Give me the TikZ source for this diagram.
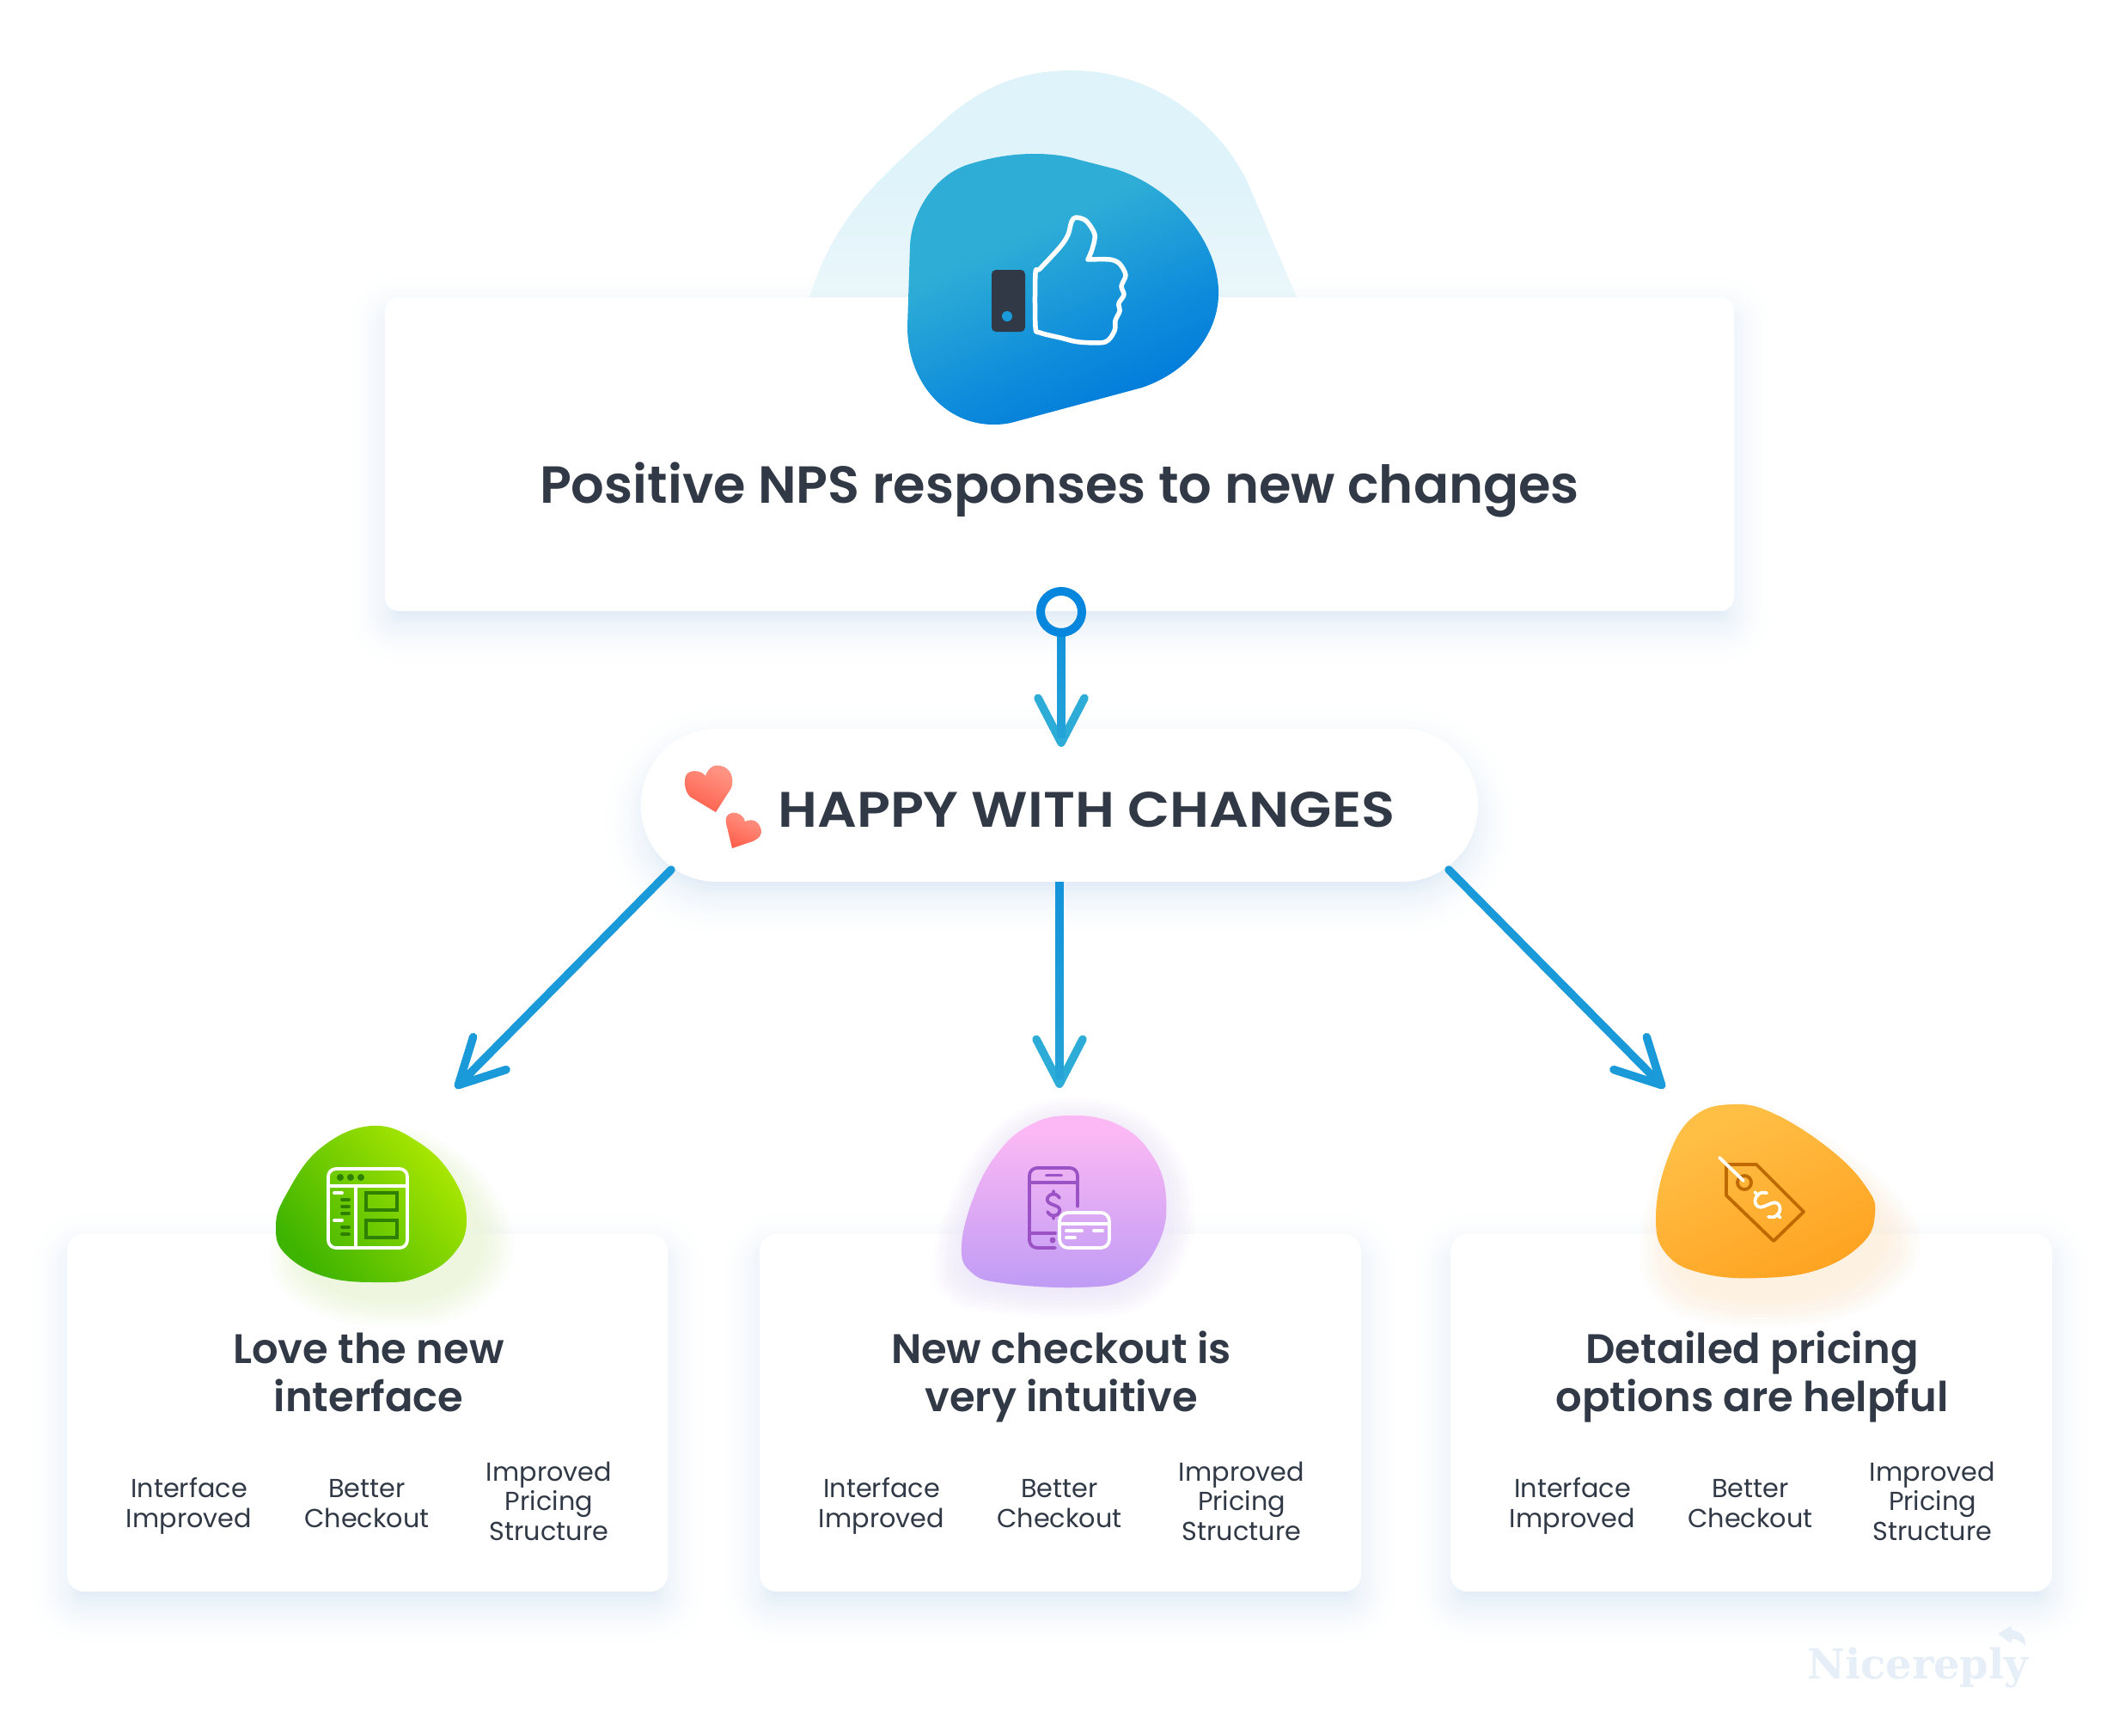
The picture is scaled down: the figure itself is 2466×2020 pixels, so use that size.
\documentclass[tikz,border=0pt]{standalone}
\usepackage{fontspec}
\setmainfont{Poppins}[BoldFont={Poppins SemiBold}]
\newfontfamily\wmfont{DejaVu Serif}
\usetikzlibrary{arrows.meta,calc}
\definecolor{ink}{HTML}{303945}
\definecolor{shadowc}{HTML}{E1ECF6}
\definecolor{arrowc}{HTML}{1A9AD9}
\definecolor{wm}{HTML}{E6EFF7}
\definecolor{tagc}{HTML}{BE6A00}
\definecolor{phonec}{HTML}{9B52C4}
\definecolor{gdark}{HTML}{2F7F00}
\definecolor{blueA}{HTML}{2EAED6}\definecolor{blueB}{HTML}{0F8CDB}\definecolor{blueC}{HTML}{007BDB}
\definecolor{backA}{HTML}{DFF3FA}\definecolor{backB}{HTML}{EAF7FB}\definecolor{backC}{HTML}{DFF0F8}
\definecolor{grA}{HTML}{ACE800}\definecolor{grB}{HTML}{3EB400}
\definecolor{puA}{HTML}{FBB8F4}\definecolor{puB}{HTML}{B697F5}
\definecolor{orA}{HTML}{FFBE44}\definecolor{orB}{HTML}{FFA01E}
\definecolor{heA}{HTML}{FF9282}\definecolor{heB}{HTML}{FF5A45}
\definecolor{shA}{HTML}{0B8ADC}\definecolor{shB}{HTML}{2CACD6}
\definecolor{ringc}{HTML}{0686DC}
\definecolor{glowg}{HTML}{E1F5BE}\definecolor{glowp}{HTML}{E1D2FA}\definecolor{glowo}{HTML}{FDE4C3}
\pgfdeclareverticalshading{sblue}{100bp}{color(0bp)=(blueC);color(26bp)=(blueC);color(40bp)=(blueB);color(62bp)=(blueA);color(100bp)=(blueA)}
\pgfdeclareverticalshading{sback}{100bp}{color(0bp)=(backC);color(20bp)=(backC);color(27bp)=(backB);color(50bp)=(backA);color(100bp)=(backA)}
\pgfdeclareverticalshading{sgreen}{100bp}{color(0bp)=(grB);color(25bp)=(grB);color(75bp)=(grA);color(100bp)=(grA)}
\pgfdeclareverticalshading{spurple}{100bp}{color(0bp)=(puB);color(18bp)=(puB);color(70bp)=(puA);color(100bp)=(puA)}
\pgfdeclareverticalshading{sorange}{100bp}{color(0bp)=(orB);color(20bp)=(orB);color(70bp)=(orA);color(100bp)=(orA)}
\pgfdeclareverticalshading{sheart}{100bp}{color(0bp)=(heB);color(20bp)=(heB);color(70bp)=(heA);color(100bp)=(heA)}
\pgfdeclareverticalshading{sshaft}{100bp}{color(0bp)=(shB);color(100bp)=(shA)}
\tikzset{
  x=1pt,y=-1pt,
  cardbox/.style={fill=white,rounded corners=#1,inner sep=0pt,outer sep=0pt},
  cardbox/.default=20pt,
  headtext/.style={text=ink,anchor=base,align=center,inner sep=0pt,font=\fontsize{48}{56}\selectfont\bfseries},
  subtext/.style={text=ink,anchor=base,align=center,inner sep=0pt,font=\fontsize{30.3}{34.3}\selectfont},
  link/.style={draw=arrowc,line width=9.5pt,line cap=round},
  tipend/.style={-{Straight Barb[length=52pt,width=54pt,line width=9.5pt,round,color=#1]}},
  iconw/.style={draw=white,line width=3.8pt,line cap=round,line join=round},
  icong/.style={draw=gdark,line width=3.8pt,line cap=round,line join=round},
  iconp/.style={draw=phonec,line width=3.8pt,line cap=round,line join=round},
  icono/.style={draw=tagc,line width=3.8pt,line cap=round,line join=round},
}
\newcommand{\softshadow}[6]{% x1 y1 x2 y2 radius dy
  \foreach \i in {0,...,30}{
    \pgfmathsetmacro{\ex}{52-70*\i/30}
    \pgfmathsetmacro{\rr}{max(#5+\ex,2)}
    \pgfmathsetmacro{\pc}{100*(\i/30)^2}
    \fill[shadowc!\pc!white,rounded corners=\rr pt] ({#1-\ex},{#2-\ex+#6}) rectangle ({#3+\ex},{#4+\ex+#6});
  }}
\newcommand{\blobglow}[6]{% path, cx, cy, dx, dy, colour
  \foreach \s in {1.28,1.24,...,0.94}{
    \begin{scope}[shift={(#2+#4,#3+#5)},scale=\s,shift={(-#2,-#3)}]
      \fill[#6,opacity=0.06] plot[smooth cycle,tension=.7] coordinates {#1};
    \end{scope}
  }}
\newcommand{\dollarshape}{
  plot[smooth,tension=.7] coordinates {(7,-8)(3,-12)(-3,-12)(-7,-8)(-6,-3)(0,0)(6,3)(7,8)(3,12)(-3,12)(-7,8)}
  (0,-12)--(0,-16) (0,12)--(0,16)}
\def\greenpts{(433,1310)(487,1329)(527,1370)(543,1420)(527,1460)(487,1486)(443,1492)(380,1486)(333,1460)(321,1428)(333,1390)(373,1336)}
\def\purplepts{(1243,1298)(1300,1308)(1340,1343)(1357,1393)(1348,1447)(1313,1487)(1257,1498)(1167,1493)(1130,1480)(1119,1450)(1133,1393)(1160,1343)(1197,1310)}
\def\orangepts{(2017,1285)(2067,1297)(2133,1340)(2173,1383)(2182,1413)(2167,1447)(2117,1477)(2050,1487)(1983,1482)(1940,1460)(1927,1417)(1940,1350)(1970,1300)}
\newcommand{\cardtext}[3]{% dx, line1, line2
  \node[headtext] (h#1) at ({429+#1},1642) {#2\\#3};
  \node[subtext] (a#1) at ({220+#1},1777) {Interface\\Improved};
  \node[subtext] (b#1) at ({427+#1},1777) {Better\\Checkout};
  \node[subtext] (c#1) at ({639+#1},1792) {Improved\\Pricing\\Structure};
}
\begin{document}
\begin{tikzpicture}
\useasboundingbox (0,0) rectangle (2466,2020);
\fill[white] (0,0) rectangle (2466,2020);
% shadows
\softshadow{448}{346}{2018}{711}{16}{18}
\softshadow{746}{848}{1720}{1026}{88}{18}
\softshadow{78}{1436}{777}{1852}{20}{18}
\softshadow{884}{1436}{1584}{1852}{20}{18}
\softshadow{1688}{1436}{2388}{1852}{20}{18}
% watermark
\node[anchor=base west,inner sep=0pt,text=wm,font=\wmfont\bfseries\fontsize{48}{48}\selectfont] (wmk) at (2103,1953) {Nicereply};
\fill[wm] (2325,1901) -- (2340,1892) -- (2342,1897) .. controls (2352,1898) and (2358,1905) .. (2357,1915) .. controls (2352,1909) and (2346,1907) .. (2341,1907) -- (2340,1912) -- cycle;
% back blob
\shade[shading=sback] (942,346) .. controls (970,255) and (1020,210) .. (1091,147) .. controls (1140,100) and (1190,82) .. (1247,82) .. controls (1330,82) and (1410,130) .. (1451,210) -- (1509,346) -- cycle;
% main cards
\node[cardbox=16pt,minimum width=1570pt,minimum height=365pt] (main) at (1233,528.5) {};
\node[cardbox=88pt,minimum width=974pt,minimum height=178pt] (happy) at (1233,937) {};
\node[cardbox,minimum width=699pt,minimum height=416pt] (cardA) at (427.5,1644) {};
\node[cardbox,minimum width=700pt,minimum height=416pt] (cardB) at (1234,1644) {};
\node[cardbox,minimum width=700pt,minimum height=416pt] (cardC) at (2038,1644) {};
% front blob
\shade[shading=sblue,shading angle=25] (1059,287) -- (1056,380) .. controls (1056,445) and (1100,494) .. (1156,494) .. controls (1166,494) and (1174,493) .. (1184,490) -- (1329,451) .. controls (1385,432) and (1420,385) .. (1418,337) .. controls (1416,280) and (1365,218) .. (1299,197) -- (1256,186) .. controls (1240,181) and (1222,179) .. (1204,179) .. controls (1175,179) and (1150,184) .. (1125,192) .. controls (1085,206) and (1060,250) .. (1059,287) -- cycle;
% thumb
\fill[ink,rounded corners=5pt] (1154,314) rectangle (1193,386);
\fill[arrowc] (1172,368) circle (6);
\draw[iconw,line width=5.5pt] plot[smooth,tension=.5] coordinates {(1266,302)(1292,302)(1303,307)(1310,320)(1305,333)(1308,343)(1302,353)(1303,362)(1298,373)(1297,385)(1286,398)(1256,398)(1234,393)(1210,387)(1205,380)(1205,318)(1210,313)(1234,287)(1243,273)(1247,258)(1252,253)(1264,257)(1274,273)(1271,290)(1266,302)};
% title
\node[text=ink,anchor=base,inner sep=0pt,font=\fontsize{60.7}{61}\selectfont\bfseries] (title) at (1233,585) {Positive NPS responses to new changes};
% ring + top connector
\coordinate (ringcen) at (1235,712);
\coordinate (tipA) at (1235,869);
\node[circle,minimum size=48pt,inner sep=0pt] (ring) at (ringcen) {};
\draw[link,tipend={shB},line cap=butt,draw=shA] (ring.south) -- (tipA);
\shade[shading=sshaft] (1230.5,735) rectangle (1239.5,858);
\draw[draw=ringc,line width=10pt] (ringcen) circle (24);
% happy pill text
\node[text=ink,anchor=base west,inner sep=0pt,font=\fontsize{58}{58}\selectfont\bfseries] (happyt) at (905,962) {\scalebox{1.105}[1]{HAPPY WITH CHANGES}};
% hearts
\shade[shading=sheart,shading angle=-25] (833,945) -- (803,927) .. controls (796,920) and (795,905) .. (800,900) .. controls (806,895) and (817,897) .. (821,903) .. controls (824,893) and (832,889) .. (838,891) .. controls (850,893) and (855,905) .. (851,917) -- cycle;
\shade[shading=sheart,shading angle=-25] (852,987) -- (845,958) .. controls (843,948) and (851,944) .. (857,946) .. controls (862,947) and (866,951) .. (867,956) .. controls (875,952) and (882,955) .. (885,963) .. controls (888,971) and (884,975) .. (876,979) -- cycle;
% connectors
\coordinate (sL) at (781,1012);
\coordinate (eL) at (530,1266);
\coordinate (sM) at (1233,1026);
\coordinate (eM) at (1233,1266);
\coordinate (sR) at (1686,1012);
\coordinate (eR) at (1937,1266);
\draw[link,tipend={arrowc}] (sL) -- (eL);
\draw[link,tipend={shB},line cap=butt,draw=shA] (sM) -- (eM);
\shade[shading=sshaft] (1228.5,1026) rectangle (1237.5,1255);
\draw[link,tipend={arrowc}] (sR) -- (eR);
% green blob
\blobglow{\greenpts}{432}{1400}{24}{26}{glowg}
\shade[shading=sgreen,shading angle=-50] plot[smooth cycle,tension=.7] coordinates {\greenpts};
\draw[iconw,rounded corners=9pt] (382,1360) rectangle (474,1452);
\draw[iconw] (382,1380) -- (474,1380) (414,1380) -- (414,1452);
\foreach \x in {396,408,420} \fill[gdark] (\x,1370) circle (4);
\draw[icong,line join=miter] (426,1388) rectangle (462,1408) (426,1420) rectangle (462,1440);
\draw[iconw] (389,1388) -- (398,1388) (389,1420) -- (398,1420);
\foreach \y in {1396,1404,1412,1428,1436} \draw[icong] (398,\y) -- (406,\y);
% purple blob
\blobglow{\purplepts}{1240}{1400}{0}{8}{glowp}
\shade[shading=spurple] plot[smooth cycle,tension=.7] coordinates {\purplepts};
\draw[iconp,rounded corners=9pt] (1228,1452) -- (1198,1452) -- (1198,1359) -- (1254,1359) -- (1254,1404);
\draw[iconp] (1198,1376) -- (1254,1376) (1218,1367.5) -- (1235,1367.5) (1198,1435) -- (1228,1435);
\fill[phonec] (1225,1443) circle (3.5);
\begin{scope}[shift={(1226,1402)}]
\draw[iconp] \dollarshape;
\end{scope}
\draw[iconw,rounded corners=10pt] (1233,1411) rectangle (1291,1452);
\draw[iconw] (1233,1424) -- (1291,1424) (1241,1432) -- (1259,1432) (1273,1432) -- (1283,1432) (1241,1440) -- (1251,1440);
% orange blob
\blobglow{\orangepts}{2050}{1390}{16}{30}{glowo}
\shade[shading=sorange,shading angle=25] plot[smooth cycle,tension=.7] coordinates {\orangepts};
\draw[icono] (2009,1355) -- (2044,1355) -- (2099,1410) -- (2064,1444) -- (2009,1391) -- cycle;
\draw[icono] (2030,1376) circle (8);
\draw[iconw] (2001,1347) -- (2029,1374);
\begin{scope}[shift={(2057,1402)},rotate=45,scale=1.3]
\draw[iconw,line width=3.8pt] \dollarshape;
\end{scope}
% card texts
\cardtext{0}{Love the new}{interface}
\cardtext{806}{New checkout is}{very intuitive}
\cardtext{1610}{Detailed pricing}{options are helpful}
\end{tikzpicture}
\end{document}
